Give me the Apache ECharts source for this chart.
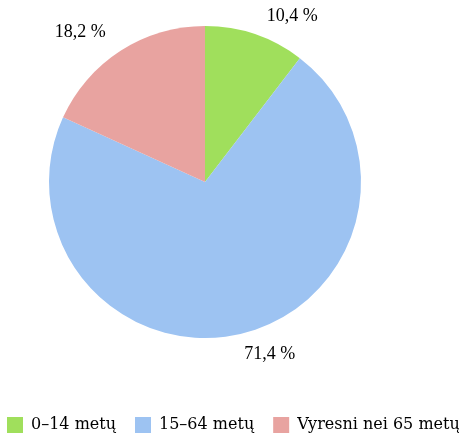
<!DOCTYPE html>
<html>
<head>
<meta charset="utf-8">
<script src="https://cdn.jsdelivr.net/npm/echarts@6/dist/echarts.min.js"></script>
<style>
  html, body { margin: 0; padding: 0; background: #fff; }
  #chart { width: 459px; height: 434px; }
</style>
</head>
<body>
<div id="chart"></div>
<script>
// amžiaus grupės
const categories = ['0–14 metų', '15–64 metų', 'Vyresni nei 65 metų'];
const shares = [10.4, 71.4, 18.2];
const colors = ['#a0df5c', '#9dc3f2', '#e8a3a0'];

const chart = echarts.init(document.getElementById('chart'));

// procentai su kableliu
const fmtPct = v => v.toFixed(1).replace('.', ',') + ' %';
// nedidelis etikečių pataisymas
const labelShift = [[1, -1], [-8, 3], [0, -3]];

chart.setOption({
    animation: false,
    color: colors,
    legend: {
        data: categories,
        left: 7,
        top: 417,
        width: 480,
        padding: 0,
        itemWidth: 16,
        itemHeight: 16,
        itemGap: 19,
        icon: 'rect',
        textStyle: {
            fontFamily: 'DejaVu Serif',
            fontSize: 16,
            color: '#000',
            padding: [0, 0, 0, 3]
        }
    },
    series: [{
        type: 'pie',
        center: [205, 182],
        radius: 156,
        startAngle: 90,
        clockwise: true,
        avoidLabelOverlap: false,
        label: {
            show: true,
            position: 'outside',
            formatter: p => fmtPct(p.value),
            fontFamily: 'Liberation Serif',
            fontSize: 18,
            color: '#000'
        },
        labelLine: {
            show: false,
            length: 18,
            length2: 0
        },
        labelLayout: p => ({ dx: labelShift[p.dataIndex][0], dy: labelShift[p.dataIndex][1] }),
        emphasis: { disabled: true },
        data: categories.map((name, i) => ({ name, value: shares[i] }))
    }]
});
</script>
</body>
</html>
